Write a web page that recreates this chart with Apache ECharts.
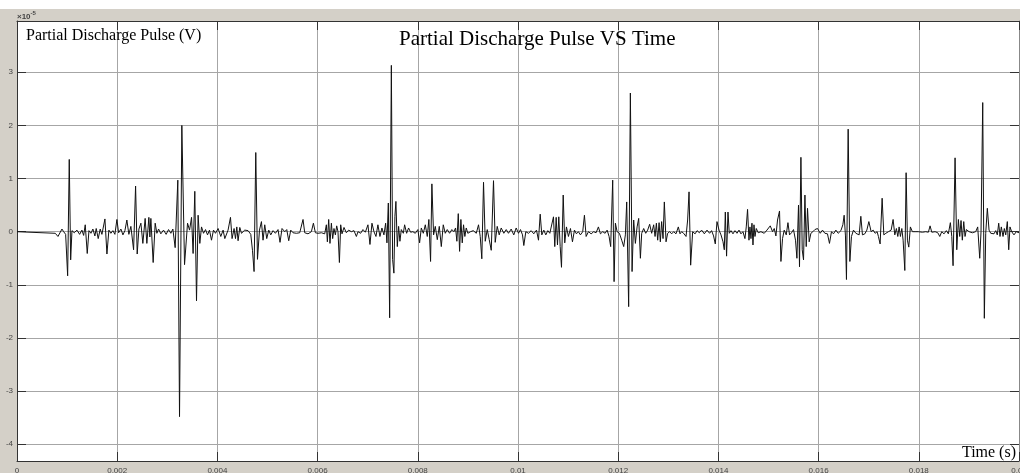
<!DOCTYPE html>
<html>
<head>
<meta charset="utf-8">
<style>
html,body{margin:0;padding:0;background:#ffffff;width:1020px;height:473px;overflow:hidden;}
#chart{position:absolute;left:0;top:9px;width:1020px;height:464px;background:#d4d0c8;}
</style>
<script src="https://cdn.jsdelivr.net/npm/echarts@6/dist/echarts.min.js"></script>
</head>
<body>
<div id="chart"></div>
<script>
// Time in milliseconds (axis labels shown in seconds)
const time_ms = [
0.000,0.764,0.818,0.897,0.931,0.971,1.011,1.043,1.071,1.097,1.143,1.196,1.250,1.296,1.330,1.362,1.402,1.436,1.476,1.515,
1.555,1.581,1.621,1.661,1.695,1.755,1.795,1.834,1.874,1.914,1.954,1.994,2.028,2.074,2.114,2.154,2.193,2.233,2.273,2.327,
2.367,2.399,2.433,2.473,2.512,2.558,2.592,2.632,2.652,2.672,2.718,2.758,2.792,2.826,2.871,2.925,2.977,3.025,3.071,3.111,
3.157,3.210,3.244,3.290,3.344,3.404,3.444,3.484,3.515,3.549,3.583,3.615,3.649,3.683,3.723,3.763,3.803,3.842,3.882,3.922,
3.962,4.014,4.068,4.114,4.148,4.213,4.261,4.293,4.333,4.361,4.387,4.413,4.447,4.481,4.546,4.612,4.666,4.700,4.732,4.766,
4.800,4.840,4.879,4.911,4.945,4.985,5.025,5.065,5.111,5.158,5.210,5.250,5.290,5.344,5.384,5.424,5.464,5.509,5.577,5.643,
5.677,5.709,5.743,5.809,5.876,5.916,5.956,6.008,6.076,6.142,6.175,6.195,6.221,6.247,6.275,6.301,6.327,6.355,6.381,6.407,
6.435,6.461,6.487,6.527,6.574,6.620,6.674,6.726,6.774,6.806,6.859,6.905,6.953,7.005,7.045,7.085,7.125,7.165,7.204,7.244,
7.284,7.324,7.358,7.384,7.412,7.438,7.472,7.497,7.523,7.543,7.563,7.591,7.617,7.643,7.671,7.711,7.737,7.777,7.816,7.856,
7.902,7.950,8.002,8.036,8.070,8.110,8.150,8.189,8.221,8.255,8.281,8.315,8.349,8.389,8.429,8.469,8.508,8.548,8.588,8.634,
8.680,8.720,8.754,8.780,8.808,8.834,8.860,8.887,8.913,8.939,8.967,8.999,9.053,9.107,9.167,9.212,9.246,9.278,9.312,9.346,
9.386,9.426,9.466,9.511,9.545,9.585,9.625,9.665,9.717,9.765,9.810,9.864,9.916,9.964,10.010,10.050,10.090,10.116,10.156,10.209,
10.263,10.315,10.369,10.409,10.443,10.475,10.515,10.555,10.595,10.635,10.674,10.708,10.734,10.762,10.788,10.814,10.842,10.868,10.902,10.933,
10.967,11.007,11.047,11.087,11.127,11.166,11.206,11.246,11.292,11.326,11.360,11.406,11.460,11.511,11.559,11.605,11.645,11.691,11.739,11.779,
11.818,11.850,11.890,11.918,11.944,11.978,12.024,12.070,12.110,12.143,12.170,12.209,12.243,12.277,12.309,12.343,12.377,12.409,12.443,12.469,
12.509,12.549,12.588,12.628,12.668,12.708,12.736,12.762,12.788,12.816,12.841,12.867,12.895,12.921,12.955,12.987,13.027,13.067,13.107,13.154,
13.200,13.234,13.266,13.306,13.354,13.386,13.414,13.446,13.486,13.535,13.575,13.619,13.665,13.719,13.773,13.824,13.864,13.904,13.938,13.972,
14.012,14.052,14.092,14.118,14.138,14.163,14.191,14.217,14.251,14.291,14.331,14.371,14.411,14.450,14.490,14.530,14.556,14.582,14.610,14.630,
14.650,14.670,14.690,14.710,14.730,14.756,14.795,14.849,14.915,14.969,15.035,15.081,15.115,15.148,15.180,15.220,15.248,15.280,15.314,15.354,
15.388,15.420,15.459,15.499,15.539,15.567,15.599,15.619,15.647,15.673,15.699,15.727,15.753,15.779,15.812,15.846,15.886,15.926,15.978,16.032,
16.078,16.125,16.177,16.217,16.257,16.297,16.345,16.391,16.445,16.484,16.510,16.536,16.556,16.590,16.624,16.656,16.696,16.744,16.776,16.809,
16.843,16.875,16.923,16.963,17.003,17.049,17.089,17.128,17.168,17.194,17.228,17.268,17.302,17.342,17.394,17.448,17.487,17.521,17.553,17.581,
17.607,17.633,17.661,17.687,17.721,17.747,17.773,17.800,17.832,17.872,17.926,17.992,18.072,18.139,18.191,18.225,18.259,18.325,18.379,18.419,
18.458,18.504,18.550,18.590,18.630,18.658,18.684,18.724,18.758,18.790,18.817,18.843,18.869,18.897,18.923,18.949,19.003,19.069,19.136,19.176,
19.216,19.242,19.276,19.308,19.336,19.368,19.402,19.436,19.468,19.501,19.535,19.567,19.595,19.621,19.647,19.681,19.707,19.735,19.767,19.795,
19.820,19.854,19.900,19.946,19.980,20.000
];
// Pulse amplitude in units of 1e-5 V
const pulse_e5 = [
0,-0.03,-0.09,0.05,0.00,-0.05,-0.83,1.36,-0.53,0.02,-0.02,0.03,-0.05,0.03,-0.07,0.13,-0.41,0.02,-0.03,0.05,
-0.08,0.06,-0.13,0.05,-0.05,0.24,-0.42,0.03,-0.03,0.02,-0.05,0.23,-0.02,0.05,-0.06,0.02,0.22,-0.05,0.10,-0.34,
0.86,-0.42,0.05,0.16,-0.22,0.25,-0.22,0.27,-0.10,0.25,-0.58,0.16,-0.03,0.05,-0.04,0.03,-0.05,0.04,-0.03,0.05,
-0.30,0.97,-3.48,2.00,-0.62,0.16,0.03,0.27,-0.41,0.76,-1.30,0.31,-0.22,0.09,-0.03,0.04,-0.06,0.03,-0.16,0.03,
-0.03,0.06,-0.09,0.03,-0.13,0.03,0.27,-0.13,0.06,-0.13,0.09,-0.17,0.08,-0.03,0.03,0.02,-0.05,-0.35,-0.75,1.49,
-0.52,0.03,0.19,-0.16,0.13,-0.13,0.03,-0.06,0.02,-0.03,0.04,-0.20,0.06,0.00,0.04,-0.17,0.03,-0.02,-0.03,-0.02,
0.00,0.23,-0.02,-0.04,0.00,0.16,-0.02,-0.03,-0.02,-0.04,0.13,-0.19,0.23,-0.22,0.16,-0.13,0.06,-0.06,0.11,0.00,
-0.58,0.13,-0.04,0.08,-0.02,0.03,0.00,0.02,-0.09,0.00,-0.03,0.04,-0.01,0.13,-0.24,0.16,0.00,-0.09,0.13,-0.09,
0.07,-0.06,0.16,-0.21,0.54,-1.62,3.13,-0.52,-0.78,0.29,0.57,-0.28,0.10,-0.18,0.04,-0.03,0.13,-0.03,0.07,-0.01,
0.00,-0.03,0.04,-0.21,0.07,-0.03,0.13,-0.09,0.23,-0.56,0.90,-0.06,0.10,-0.15,0.10,-0.28,0.13,-0.03,0.04,-0.03,
0.04,0.00,0.07,-0.18,0.34,-0.37,0.23,-0.21,0.13,-0.09,0.07,-0.03,0.00,0.02,-0.03,0.13,-0.09,-0.51,0.93,-0.18,
0.04,-0.15,-0.35,0.96,-0.20,0.10,-0.06,0.07,-0.03,0.04,-0.03,0.05,-0.06,0.07,-0.03,0.04,-0.06,-0.26,0.00,-0.03,
0.02,-0.04,0.03,-0.16,0.33,-0.06,0.03,-0.06,0.02,-0.03,-0.04,0.28,-0.28,0.27,-0.25,0.28,-0.28,-0.67,0.69,-0.21,
0.09,-0.09,0.06,-0.19,0.03,-0.04,0.00,-0.06,0.00,0.31,-0.09,0.00,-0.04,0.00,-0.02,0.09,-0.04,0.00,-0.03,0.03,
-0.09,-0.28,0.97,-0.94,0.16,0.00,-0.03,-0.16,-0.28,-0.06,0.56,-1.41,2.61,-0.75,0.22,-0.22,0.09,0.25,-0.50,-0.03,
0.06,-0.03,0.03,0.14,-0.03,0.13,-0.09,0.16,-0.16,0.17,-0.19,0.19,-0.13,0.56,-0.19,-0.03,0.00,-0.04,0.00,-0.04,
0.09,-0.04,0.00,-0.03,-0.09,0.22,0.75,-0.63,0.00,-0.04,0.02,-0.02,0.03,-0.04,0.03,-0.03,0.02,-0.08,-0.23,0.19,
0.03,-0.06,-0.19,-0.34,0.37,-0.46,0.37,-0.03,0.02,-0.04,0.02,-0.03,0.03,-0.04,0.00,-0.13,0.09,0.42,-0.16,0.09,
-0.13,0.16,-0.25,0.13,-0.09,0.06,-0.02,0.00,-0.03,0.03,0.11,0.00,0.06,-0.08,0.22,0.39,-0.56,-0.13,0.03,-0.06,
0.17,-0.06,-0.02,0.04,-0.16,-0.50,0.50,-0.66,1.40,-0.34,-0.53,0.69,-0.28,0.44,-0.19,-0.03,0.00,0.04,0.06,-0.03,
0.03,-0.03,-0.04,-0.22,0.00,-0.04,0.03,-0.03,0.02,0.13,0.31,-0.08,-0.90,1.93,-0.56,-0.09,0.03,-0.03,0.00,-0.06,
0.29,-0.06,-0.04,0.03,0.19,0.00,0.03,-0.03,0.00,-0.09,-0.23,0.63,-0.06,-0.03,0.00,0.03,0.23,-0.06,0.06,-0.09,
0.09,-0.09,0.06,-0.16,-0.73,1.11,-0.16,-0.29,0.09,0.00,0.00,0.00,-0.01,0.00,-0.01,0.11,-0.01,0.00,-0.02,-0.09,
0.00,-0.04,0.02,-0.04,0.17,-0.09,-0.64,1.39,-0.34,0.23,-0.09,0.21,-0.16,0.19,-0.09,0.04,0.00,-0.02,0.00,0.09,
-0.50,0.00,2.43,-1.63,-0.03,0.44,0.03,-0.03,-0.01,-0.04,0.02,-0.06,0.16,-0.09,0.09,-0.09,0.06,-0.06,0.19,-0.34,
0.09,0.00,-0.06,0.00,-0.03,-0.02
];
const xTicks_ms = [0, 2, 4, 6, 8, 10, 12, 14, 16, 18, 20];
const yTicks_e5 = [-4, -3, -2, -1, 0, 1, 2, 3];
const yRange_e5 = [-4.315, 3.965];

const seriesData = time_ms.map((t, i) => [t, pulse_e5[i]]);

const chart = echarts.init(document.getElementById('chart'), null, {renderer: 'canvas'});
const serif = '"Liberation Serif", "Times New Roman", serif';
const sans = '"Liberation Sans", Arial, sans-serif';
const gridLine = {show: true, lineStyle: {color: '#a6a6a6', width: 1}};

chart.setOption({
  animation: false,
  backgroundColor: '#d4d0c8',
  title: [
    {text: 'Partial Discharge Pulse VS Time', left: 399, top: 20, padding: 0,
     textStyle: {fontFamily: serif, fontSize: 21, fontWeight: 'normal', color: '#000', lineHeight: 21}},
    {text: 'Partial Discharge Pulse (V)', left: 26, top: 19, padding: 0,
     textStyle: {fontFamily: serif, fontSize: 16, fontWeight: 'normal', color: '#000', lineHeight: 16}},
    {text: 'Time (s)', right: 4, top: 436, padding: 0,
     textStyle: {fontFamily: serif, fontSize: 16, fontWeight: 'normal', color: '#000', lineHeight: 16}},
    {text: '{a|×10}{b|-5}', left: 17, top: 1, padding: 0,
     textStyle: {rich: {a: {fontFamily: sans, fontSize: 8, color: '#444', verticalAlign: 'bottom', padding: [3,0,0,0]},
                        b: {fontFamily: sans, fontSize: 6, color: '#444', verticalAlign: 'top'}}}}
  ],
  grid: {left: 17, right: 1, top: 12, bottom: 12, show: true, backgroundColor: '#ffffff', borderWidth: 0,
         containLabel: false, outerBoundsMode: 'none'},
  xAxis: [
    {type: 'value', min: 0, max: 20, interval: 2, position: 'bottom',
     axisLine: {show: true, onZero: false, lineStyle: {color: '#333', width: 1}},
     axisTick: {show: true, inside: true, length: 9, lineStyle: {color: '#333'}},
     axisLabel: {show: true, margin: 6, fontFamily: sans, fontSize: 8, color: '#444',
                 customValues: xTicks_ms, hideOverlap: false,
                 formatter: v => v === 0 ? '0' : String(+(v / 1000).toFixed(3))},
     splitLine: gridLine},
    {type: 'value', min: 0, max: 20, interval: 2, position: 'top',
     axisLine: {show: true, onZero: false, lineStyle: {color: '#333', width: 1}},
     axisTick: {show: true, inside: true, length: 9, lineStyle: {color: '#333'}},
     axisLabel: {show: false}, splitLine: {show: false}}
  ],
  yAxis: [
    {type: 'value', min: yRange_e5[0], max: yRange_e5[1], position: 'left',
     axisLine: {show: true, onZero: false, lineStyle: {color: '#333', width: 1}},
     axisTick: {show: true, inside: true, length: 9, lineStyle: {color: '#333'}, customValues: yTicks_e5},
     axisLabel: {show: true, margin: 4, fontFamily: sans, fontSize: 8, color: '#444', customValues: yTicks_e5,
                 formatter: v => String(v)},
     splitLine: gridLine},
    {type: 'value', min: yRange_e5[0], max: yRange_e5[1], position: 'right',
     axisLine: {show: true, onZero: false, lineStyle: {color: '#888', width: 1}},
     axisTick: {show: true, inside: true, length: 9, lineStyle: {color: '#333'}, customValues: yTicks_e5},
     axisLabel: {show: false}, splitLine: {show: false}}
  ],
  series: [{
    type: 'line', xAxisIndex: 0, yAxisIndex: 0, data: seriesData,
    showSymbol: false, symbol: 'none', smooth: false,
    lineStyle: {color: '#111111', width: 1}
  }]
});
</script>
</body>
</html>
